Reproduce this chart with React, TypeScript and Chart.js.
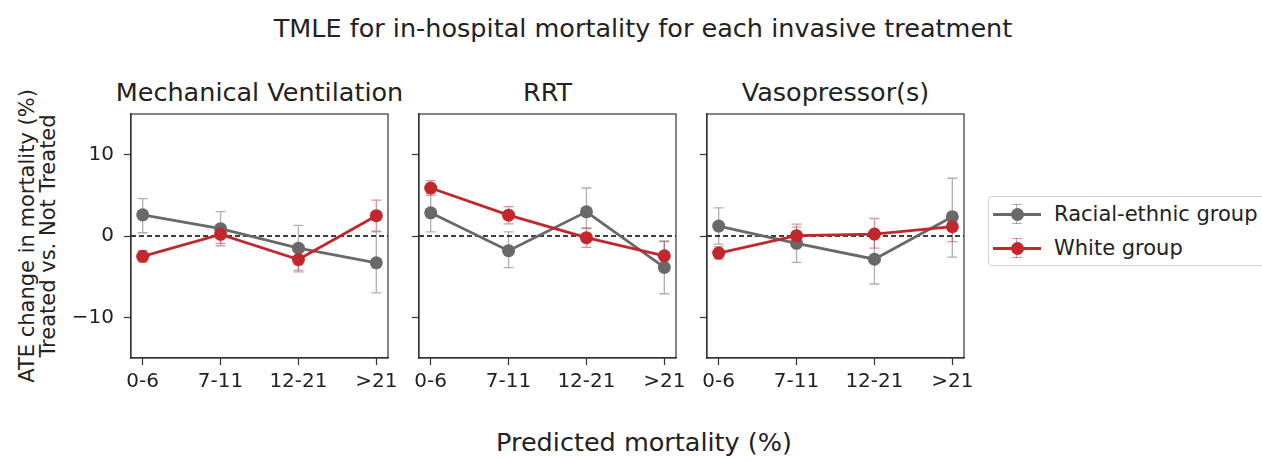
import React, { useEffect, useRef } from "react";
import { Chart, registerables } from "chart.js";

Chart.register(...registerables);

// ---------- data ----------
const categories = ["0-6", "7-11", "12-21", ">21"];
const panelTitles = ["Mechanical Ventilation", "RRT", "Vasopressor(s)"];
const yTickValues = [-10, 0, 10];

// Mechanical Ventilation
const mvGray = [2.6, 0.9, -1.5, -3.3];
const mvGrayLo = [0.4, -1.2, -4.2, -7.0];
const mvGrayHi = [4.6, 3.0, 1.3, 0.5];
const mvRed = [-2.5, 0.2, -2.9, 2.5];
const mvRedLo = [-3.2, -0.9, -4.4, 0.6];
const mvRedHi = [-1.8, 1.2, -1.5, 4.4];

// RRT
const rrtGray = [2.85, -1.8, 2.97, -3.86];
const rrtGrayLo = [0.5, -3.9, 0.9, -7.1];
const rrtGrayHi = [5.2, 0.5, 5.9, -0.6];
const rrtRed = [5.9, 2.56, -0.2, -2.44];
const rrtRedLo = [5.0, 1.5, -1.4, -4.2];
const rrtRedHi = [6.8, 3.6, 1.0, -0.7];

// Vasopressor(s)
const vaGray = [1.22, -0.9, -2.85, 2.36];
const vaGrayLo = [-1.0, -3.25, -5.9, -2.6];
const vaGrayHi = [3.46, 1.1, 0.2, 7.1];
const vaRed = [-2.1, 0.04, 0.24, 1.14];
const vaRedLo = [-2.85, -1.0, -1.5, -0.7];
const vaRedHi = [-1.3, 1.46, 2.15, 2.9];

const seriesNames = ["Racial-ethnic group", "White group"];

const panels = [
  { gray: mvGray, grayLo: mvGrayLo, grayHi: mvGrayHi, red: mvRed, redLo: mvRedLo, redHi: mvRedHi },
  { gray: rrtGray, grayLo: rrtGrayLo, grayHi: rrtGrayHi, red: rrtRed, redLo: rrtRedLo, redHi: rrtRedHi },
  { gray: vaGray, grayLo: vaGrayLo, grayHi: vaGrayHi, red: vaRed, redLo: vaRedLo, redHi: vaRedHi },
];

// ---------- style / layout ----------
const FONT = "DejaVu Sans";
const TEXT = "#222";
const GRAY = "#696969";
const RED = "#c1272d";
const GRAY_ERR = "rgba(110,110,110,0.55)";
const RED_ERR = "rgba(200,40,45,0.5)";

const PLOT_LEFTS = [131, 419, 707];
const PLOT_W = 257;
const PLOT_TOP = 114;
const PLOT_BOTTOM = 358;
const OFF = 70;
const RIGHT_PAD = 12;
const CANVAS_TOP = 104;
const CANVAS_H = 300;

Chart.defaults.font.family = FONT;

const decorPlugin = {
  id: "decor",
  beforeDatasetsDraw(chart: any) {
    const { ctx, chartArea, scales } = chart;
    const x = scales.x;
    const y = scales.y;
    // error bars
    chart.data.datasets.forEach((ds: any) => {
      ctx.save();
      ctx.strokeStyle = ds.errColor;
      ctx.lineWidth = 1.3;
      ds.data.forEach((pt: any, i: number) => {
        const px = x.getPixelForValue(pt.x);
        const y1 = y.getPixelForValue(ds.lo[i]);
        const y2 = y.getPixelForValue(ds.hi[i]);
        ctx.beginPath();
        ctx.moveTo(px, y1);
        ctx.lineTo(px, y2);
        ctx.moveTo(px - 5, y1);
        ctx.lineTo(px + 5, y1);
        ctx.moveTo(px - 5, y2);
        ctx.lineTo(px + 5, y2);
        ctx.stroke();
      });
      ctx.restore();
    });
    // zero dashed line
    const y0 = y.getPixelForValue(0);
    ctx.save();
    ctx.strokeStyle = "#000";
    ctx.lineWidth = 1.5;
    ctx.setLineDash([5, 3]);
    ctx.beginPath();
    ctx.moveTo(chartArea.left, y0);
    ctx.lineTo(chartArea.right, y0);
    ctx.stroke();
    ctx.restore();
  },
  afterDraw(chart: any) {
    const { ctx, chartArea } = chart;
    ctx.save();
    ctx.strokeStyle = "#333";
    ctx.lineWidth = 1.2;
    ctx.strokeRect(chartArea.left, chartArea.top, chartArea.right - chartArea.left, chartArea.bottom - chartArea.top);
    ctx.restore();
  },
};

function Panel({ idx }: { idx: number }) {
  const ref = useRef<HTMLCanvasElement | null>(null);
  useEffect(() => {
    const p = panels[idx];
    const toPts = (arr: number[]) => arr.map((v, i) => ({ x: i, y: v }));
    const chart = new Chart(ref.current as HTMLCanvasElement, {
      type: "line",
      data: {
        datasets: [
          {
            label: seriesNames[1],
            data: toPts(p.red),
            lo: p.redLo,
            hi: p.redHi,
            errColor: RED_ERR,
            borderColor: RED,
            backgroundColor: RED,
            borderWidth: 2.8,
            pointRadius: 6.5,
            pointBorderWidth: 0,
            pointBackgroundColor: RED,
            clip: false,
          } as any,
          {
            label: seriesNames[0],
            data: toPts(p.gray),
            lo: p.grayLo,
            hi: p.grayHi,
            errColor: GRAY_ERR,
            borderColor: GRAY,
            backgroundColor: GRAY,
            borderWidth: 2.8,
            pointRadius: 6.5,
            pointBorderWidth: 0,
            pointBackgroundColor: GRAY,
            clip: false,
          } as any,
        ],
      },
      options: {
        animation: false,
        responsive: false,
        layout: { padding: { left: 0, right: RIGHT_PAD, top: PLOT_TOP - CANVAS_TOP, bottom: 0 } },
        plugins: { legend: { display: false }, tooltip: { enabled: false }, title: { display: false } },
        scales: {
          x: {
            type: "linear",
            min: -0.15,
            max: 3.15,
            afterBuildTicks: (s: any) => {
              s.ticks = categories.map((_, i) => ({ value: i }));
            },
            afterFit: (s: any) => {
              s.height = CANVAS_TOP + CANVAS_H - PLOT_BOTTOM;
              s.paddingLeft = 0;
              s.paddingRight = 0;
            },
            ticks: {
              callback: (v: any) => categories[v as number],
              font: { size: 20, family: FONT },
              color: TEXT,
              padding: 5,
              maxRotation: 0,
              autoSkip: false,
            },
            grid: { drawOnChartArea: false, drawTicks: true, tickLength: 7, color: "#333", tickWidth: 1.2 },
            border: { display: true, color: "#333", width: 1.2 },
          },
          y: {
            type: "linear",
            min: -15,
            max: 15,
            afterBuildTicks: (s: any) => {
              s.ticks = yTickValues.map((v) => ({ value: v }));
            },
            afterFit: (s: any) => {
              s.width = OFF;
              s.paddingTop = 0;
              s.paddingBottom = 0;
            },
            ticks: {
              display: idx === 0,
              callback: (v: any) => (v < 0 ? "\u2212" + Math.abs(v) : String(v)),
              font: { size: 20, family: FONT },
              color: TEXT,
              padding: 10,
            },
            grid: { drawOnChartArea: false, drawTicks: true, tickLength: 7, color: "#333", tickWidth: 1.2 },
            border: { display: true, color: "#333", width: 1.2 },
          },
        },
      } as any,
      plugins: [decorPlugin],
    });
    return () => chart.destroy();
  }, [idx]);
  const w = OFF + PLOT_W + RIGHT_PAD;
  return (
    <canvas
      ref={ref}
      width={w}
      height={CANVAS_H}
      style={{ position: "absolute", left: PLOT_LEFTS[idx] - OFF, top: CANVAS_TOP, width: w, height: CANVAS_H }}
    />
  );
}

function Txt({ x, y, size, children, rotate }: { x: number; y: number; size: number; children: React.ReactNode; rotate?: boolean }) {
  return (
    <div
      style={{
        position: "absolute",
        left: x,
        top: y,
        transform: `translate(-50%, -50%)${rotate ? " rotate(-90deg)" : ""}`,
        fontFamily: FONT,
        fontSize: size,
        color: TEXT,
        whiteSpace: "nowrap",
        lineHeight: 1,
      }}
    >
      {children}
    </div>
  );
}

function LegendMarker({ color, err }: { color: string; err: string }) {
  return (
    <div style={{ position: "relative", width: 48, height: 24 }}>
      <div style={{ position: "absolute", left: 0, top: 11, width: 48, height: 2.5, background: color }} />
      <div style={{ position: "absolute", left: 23, top: 2, width: 1.3, height: 20, background: err }} />
      <div style={{ position: "absolute", left: 19, top: 2, width: 10, height: 1.3, background: err }} />
      <div style={{ position: "absolute", left: 19, top: 21, width: 10, height: 1.3, background: err }} />
      <div style={{ position: "absolute", left: 17.5, top: 5.5, width: 13, height: 13, borderRadius: 7, background: color }} />
    </div>
  );
}

export default function App() {
  const centers = PLOT_LEFTS.map((l) => l + PLOT_W / 2);
  return (
    <div style={{ position: "fixed", left: 0, top: 0, width: 1262, height: 461, background: "#fff", overflow: "hidden" }}>
      <Txt x={643} y={29} size={25.5}>TMLE for in-hospital mortality for each invasive treatment</Txt>
      {panelTitles.map((t, i) => (
        <Txt key={t} x={centers[i]} y={93} size={25.5}>
          {t}
        </Txt>
      ))}
      <Panel idx={0} />
      <Panel idx={1} />
      <Panel idx={2} />
      <Txt x={644} y={443} size={25.5}>Predicted mortality (%)</Txt>
      <Txt x={27} y={236} size={21} rotate>ATE change in mortality (%)</Txt>
      <Txt x={48} y={236} size={21} rotate>Treated vs. Not Treated</Txt>
      <div
        style={{
          position: "absolute",
          left: 988,
          top: 196,
          width: 300,
          height: 68,
          border: "1px solid #d0d0d0",
          borderRadius: 4,
          fontFamily: FONT,
          fontSize: 21,
          color: TEXT,
        }}
      >
        <div style={{ position: "absolute", left: 4, top: 5, display: "flex", alignItems: "center" }}>
          <LegendMarker color={GRAY} err={GRAY_ERR} />
          <span style={{ marginLeft: 13 }}>{seriesNames[0]}</span>
        </div>
        <div style={{ position: "absolute", left: 4, top: 39, display: "flex", alignItems: "center" }}>
          <LegendMarker color={RED} err={RED_ERR} />
          <span style={{ marginLeft: 13 }}>{seriesNames[1]}</span>
        </div>
      </div>
    </div>
  );
}
